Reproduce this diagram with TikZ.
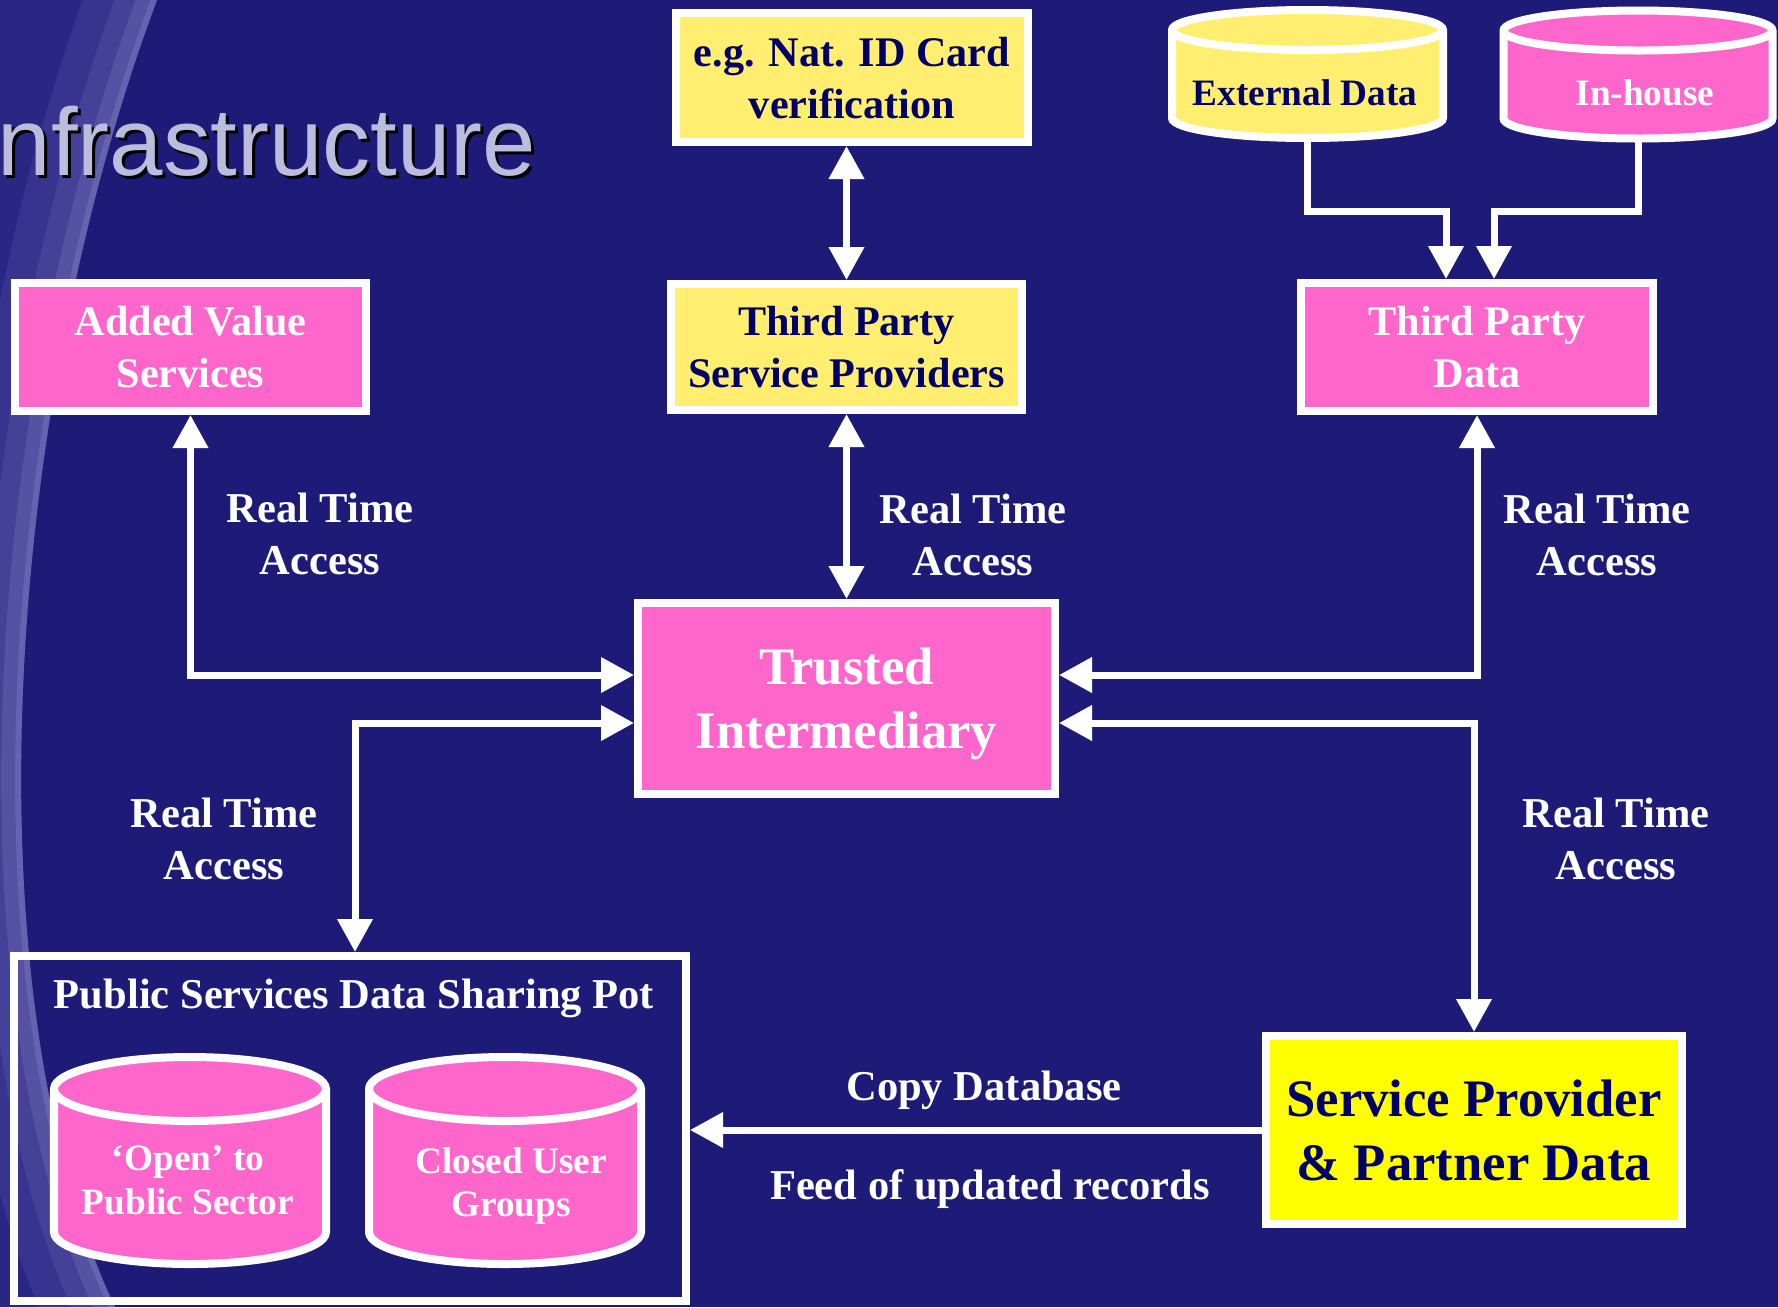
\documentclass[tikz,border=0pt]{standalone}
\usepackage{fontspec}
\setmainfont{Liberation Serif}
\newfontfamily\titlefont{Liberation Sans}
\usetikzlibrary{arrows.meta}
\definecolor{slidebg}{RGB}{30,26,120}
\definecolor{swooshbg}{RGB}{42,38,132}
\definecolor{swooshlt}{RGB}{150,150,215}
\definecolor{titlegray}{RGB}{188,188,220}
\definecolor{boxpink}{RGB}{255,102,204}
\definecolor{paleyellow}{RGB}{255,238,111}
\definecolor{brightyellow}{RGB}{255,255,0}
\definecolor{inknavy}{RGB}{0,0,102}
\newcommand{\drum}[5]{\filldraw[drumline,fill=#5,shift={#1}] (-#2,#3) -- (-#2,-#3) arc[start angle=180,end angle=360,x radius=#2,y radius=#4] -- (#2,#3) arc[start angle=0,end angle=180,x radius=#2,y radius=#4] -- cycle (-#2,#3) arc[start angle=180,end angle=360,x radius=#2,y radius=#4];}

\begin{document}
\begin{tikzpicture}[
		>={Triangle[width=3.4mm,length=3.3mm]},
		box/.style={draw=white,line width=0.8mm,fill=boxpink,text=white,align=center,inner sep=0pt,text depth=-1.5pt,font=\fontsize{12}{14.8}\selectfont\bfseries},
		ybox/.style={box,fill=paleyellow,text=inknavy},
		bigbox/.style={box,font=\fontsize{15}{18.3}\selectfont\bfseries},
		lbl/.style={text=white,align=center,inner sep=0pt,font=\fontsize{12.1}{14.8}\selectfont\bfseries},
		dblbl/.style={align=center,inner sep=0pt,font=\fontsize{10.6}{12.5}\selectfont\bfseries},
		drumline/.style={draw=white,line width=0.8mm},
		conn/.style={draw=white,line width=0.7mm}]
				\useasboundingbox (0,0) rectangle (17.78,-13.07);
				\fill[slidebg] (0,0) rectangle (17.78,-13.07);
				\fill[swooshbg] (0,0) -- (1.57,0) .. controls (0,-4.2) and (-0.30,-10.0) .. (1.15,-13.07) -- (0,-13.07) -- cycle;
				\begin{scope}
					\clip (0,0) -- (1.57,0) .. controls (0,-4.2) and (-0.30,-10.0) .. (1.15,-13.07) -- (0,-13.07) -- cycle;
					\draw[swooshlt,opacity=0.12,line width=1.4cm] (1.57,0) .. controls (0,-4.2) and (-0.30,-10.0) .. (1.15,-13.07);
					\draw[swooshlt,opacity=0.15,line width=0.8cm] (1.57,0) .. controls (0,-4.2) and (-0.30,-10.0) .. (1.15,-13.07);
					\draw[swooshlt,opacity=0.2,line width=0.4cm] (1.57,0) .. controls (0,-4.2) and (-0.30,-10.0) .. (1.15,-13.07);
					\draw[swooshlt,opacity=0.25,line width=0.12cm] (1.57,0) .. controls (0,-4.2) and (-0.30,-10.0) .. (1.15,-13.07);
				\end{scope}
				\node[anchor=base west,inner sep=0pt,text=black,font=\titlefont\fontsize{27.3}{30}\selectfont] (titleshadow) at (0.0,-1.78) {nfrastructure};
				\node[anchor=base west,inner sep=0pt,text=titlegray,font=\titlefont\fontsize{27.3}{30}\selectfont] (title) at (-0.03,-1.75) {nfrastructure};
				\node[ybox,minimum width=3.52cm,minimum height=1.29cm] (natid) at (8.52,-0.775) {e.g. Nat. ID Card\\verification};
				\node[ybox,minimum width=3.51cm,minimum height=1.26cm] (tpsp) at (8.465,-3.47) {Third Party\\Service Providers};
				\node[box,minimum width=3.51cm,minimum height=1.28cm] (avs) at (1.905,-3.47) {Added Value\\Services};
				\node[box,minimum width=3.52cm,minimum height=1.28cm] (tpd) at (14.77,-3.47) {Third Party\\Data};
				\node[bigbox,minimum width=4.17cm,minimum height=1.91cm] (ti) at (8.465,-6.985) {Trusted\\Intermediary};
				\node[bigbox,fill=brightyellow,text=inknavy,minimum width=4.16cm,minimum height=1.88cm] (sp) at (14.74,-11.30) {Service Provider\\\& Partner Data};
				\node[draw=white,line width=0.8mm,minimum width=6.72cm,minimum height=3.45cm] (pot) at (3.50,-11.285) {};
				\drum{(13.075,-0.74)}{1.355}{0.44}{0.20}{paleyellow}
				\drum{(16.38,-0.745)}{1.345}{0.44}{0.20}{boxpink}
				\drum{(1.90,-11.605)}{1.36}{0.715}{0.32}{boxpink}
				\drum{(5.05,-11.605)}{1.36}{0.715}{0.32}{boxpink}
				\node[dblbl,text=inknavy] (ext) at (13.05,-0.925) {External Data};
				\node[dblbl,text=white] (inhouse) at (16.45,-0.925) {In-house};
				\node[dblbl,text=white] (open) at (1.88,-11.80) {`Open' to\\Public Sector};
				\node[dblbl,text=white] (closed) at (5.11,-11.86) {Closed User\\Groups};
				\coordinate (extfoot) at (13.075,-1.40);
				\coordinate (inhousefoot) at (16.38,-1.40);
				\node[lbl] (avsrt) at (3.20,-5.34) {Real Time\\Access};
				\node[lbl] (tpsprt) at (9.73,-5.35) {Real Time\\Access};
				\node[lbl] (tpdrt) at (15.97,-5.35) {Real Time\\Access};
				\node[lbl] (potrt) at (2.24,-8.39) {Real Time\\Access};
				\node[lbl] (sprt) at (16.16,-8.39) {Real Time\\Access};
				\node[lbl] (copylbl) at (9.84,-10.90) {Copy Database};
				\node[lbl] (feedlbl) at (9.90,-11.89) {Feed of updated records};
				\node[lbl] (pottitle) at (3.54,-9.98) {Public Services Data Sharing Pot};
				\draw[conn,<->] (natid.south -| tpsp.north) -- (tpsp.north);
				\draw[conn,<->] (tpsp.south) -- (ti.north);
				\draw[conn,<->] (avs.south) |- ([yshift=2.35mm]ti.west);
				\draw[conn,<->] (tpd.south) |- ([yshift=2.35mm]ti.east);
				\draw[conn,<->] ([yshift=-2.45mm]ti.west) -| ([xshift=0.5mm]pot.north);
				\draw[conn,<->] ([yshift=-2.45mm]ti.east) -| (sp.north);
				\draw[conn,->] (sp.west) -- (sp.west -| pot.east);
				\draw[conn,->] (extfoot) -- ++(0,-0.71) -| ([xshift=-3.1mm]tpd.north);
				\draw[conn,->] (inhousefoot) -- ++(0,-0.71) -| ([xshift=1.7mm]tpd.north);
\end{tikzpicture}
\end{document}
